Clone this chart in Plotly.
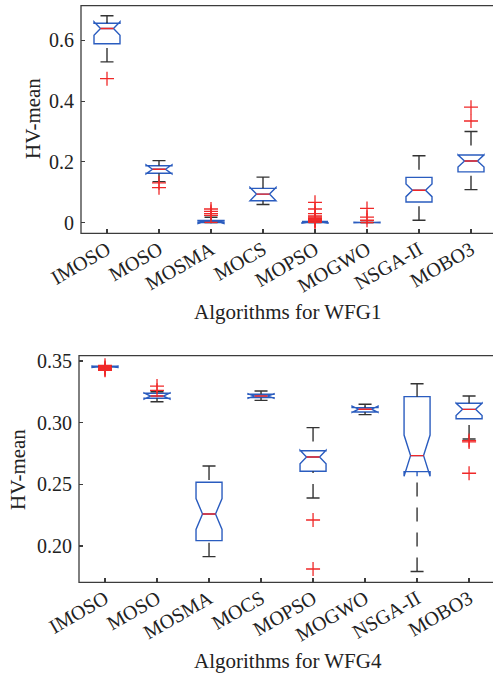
import plotly.graph_objects as go
from plotly.subplots import make_subplots

algorithms = ["IMOSO", "MOSO", "MOSMA", "MOCS", "MOPSO", "MOGWO", "NSGA-II", "MOBO3"]
positions = [1, 2, 3, 4, 5, 6, 7, 8]

wfg1_q1 = [0.589, 0.1625, 0.000, 0.072, 0.000, 0.0000, 0.068, 0.167]
wfg1_med = [0.639, 0.1757, 0.001, 0.094, 0.001, 0.0005, 0.1066, 0.203]
wfg1_q3 = [0.656, 0.1875, 0.007, 0.113, 0.004, 0.0010, 0.149, 0.2227]
wfg1_lo = [0.529, 0.135, 0.000, 0.060, 0.000, 0.0000, 0.008, 0.1086]
wfg1_hi = [0.681, 0.204, 0.018, 0.150, 0.004, 0.0010, 0.220, 0.300]
wfg1_notch = [0.022, 0.015, 0.004, 0.022, 0.003, 0.001, 0.021, 0.020]
wfg1_outliers = [
    [0.474],
    [0.131, 0.115],
    [0.045, 0.037, 0.030, 0.024],
    [],
    [0.067, 0.045, 0.030, 0.022, 0.018, 0.015, 0.013, 0.011, 0.009, 0.007, 0.005, 0.002],
    [0.047, 0.018, 0.008],
    [],
    [0.380, 0.3345],
]

wfg4_q1 = [0.3450, 0.3198, 0.2044, 0.3203, 0.2606, 0.3087, 0.2603, 0.3032]
wfg4_med = [0.3454, 0.3216, 0.2260, 0.3216, 0.2722, 0.3109, 0.2733, 0.3108]
wfg4_q3 = [0.3457, 0.3238, 0.2517, 0.3230, 0.2773, 0.3122, 0.3211, 0.3157]
wfg4_lo = [0.3450, 0.3170, 0.1914, 0.3181, 0.2390, 0.3065, 0.1793, 0.2868]
wfg4_hi = [0.3457, 0.3251, 0.2649, 0.3257, 0.2960, 0.3149, 0.3316, 0.3216]
wfg4_notch = [0.0006, 0.0025, 0.0125, 0.0018, 0.0055, 0.0025, 0.0167, 0.0050]
wfg4_outliers = [
    [0.3465, 0.3448, 0.3440, 0.3432, 0.3425],
    [0.3297, 0.3262],
    [],
    [],
    [0.2211, 0.1814],
    [],
    [],
    [0.2855, 0.2844, 0.2590],
]

wfg1_yticks = [0, 0.2, 0.4, 0.6]
wfg1_yticktext = ["0", "0.2", "0.4", "0.6"]
wfg4_yticks = [0.20, 0.25, 0.30, 0.35]
wfg4_yticktext = ["0.20", "0.25", "0.30", "0.35"]

BLUE = "#2a5cbf"
RED = "#f02828"
BLACK = "#333333"
AXC = "#3c3c3c"
FONT = "Liberation Serif, Times New Roman, serif"
BOX_W = 0.5
HALF = BOX_W / 2
CAP = HALF / 2
NOTCH_W = 0.25
MED = HALF * (1 - 2 * NOTCH_W)

fig = make_subplots(rows=2, cols=1)


def add_panel(row, q1, med, q3, lo, hi, notch, outliers):
    fig.add_trace(go.Box(
        x=positions, q1=q1, median=med, q3=q3,
        lowerfence=q1, upperfence=q3, notchspan=notch,
        notched=True, notchwidth=NOTCH_W, width=BOX_W, whiskerwidth=0,
        boxpoints=False, line=dict(color=BLUE, width=1.4),
        fillcolor="rgba(0,0,0,0)", showlegend=False, hoverinfo="skip",
    ), row=row, col=1)
    wx, wy = [], []
    for p, a, b, c, d in zip(positions, lo, q1, q3, hi):
        if a < b:
            wx += [p, p, None]
            wy += [a, b, None]
        if d > c:
            wx += [p, p, None]
            wy += [d, c, None]
    fig.add_trace(go.Scatter(x=wx, y=wy, mode="lines",
                             line=dict(color=BLACK, width=1.4, dash="14px,11px"),
                             showlegend=False, hoverinfo="skip"), row=row, col=1)
    cx, cy = [], []
    for p, a, d in zip(positions, lo, hi):
        cx += [p - CAP, p + CAP, None, p - CAP, p + CAP, None]
        cy += [a, a, None, d, d, None]
    fig.add_trace(go.Scatter(x=cx, y=cy, mode="lines",
                             line=dict(color=BLACK, width=1.4),
                             showlegend=False, hoverinfo="skip"), row=row, col=1)
    mx, my = [], []
    for p, m in zip(positions, med):
        mx += [p - MED, p + MED, None]
        my += [m, m, None]
    fig.add_trace(go.Scatter(x=mx, y=my, mode="lines",
                             line=dict(color=RED, width=1.4),
                             showlegend=False, hoverinfo="skip"), row=row, col=1)
    ox, oy = [], []
    for p, outs in zip(positions, outliers):
        for v in outs:
            ox.append(p)
            oy.append(v)
    fig.add_trace(go.Scatter(x=ox, y=oy, mode="markers",
                             marker=dict(symbol="cross-thin", size=10,
                                         line=dict(color=RED, width=1.3), color=RED),
                             showlegend=False, hoverinfo="skip"), row=row, col=1)


add_panel(1, wfg1_q1, wfg1_med, wfg1_q3, wfg1_lo, wfg1_hi, wfg1_notch, wfg1_outliers)
add_panel(2, wfg4_q1, wfg4_med, wfg4_q3, wfg4_lo, wfg4_hi, wfg4_notch, wfg4_outliers)

W, H = 493, 678
axis_common = dict(ticks="inside", ticklen=4, tickcolor=AXC, tickwidth=1.2,
                   showgrid=False, zeroline=False, automargin=False, showspikes=False,
                   tickfont=dict(family=FONT, size=20, color="#222222"))

fig.update_xaxes(**axis_common, showline=False, mirror=False,
                 tickvals=positions, ticktext=algorithms, tickangle=-30)
fig.update_xaxes(row=1, col=1, domain=[81 / W, 1.0], range=[0.5, 8.423])
fig.update_xaxes(row=2, col=1, domain=[79 / W, 1.0], range=[0.5, 8.46])
fig.update_yaxes(**axis_common, showline=False, mirror=False, ticklabelstandoff=6)
fig.update_yaxes(row=1, col=1, domain=[1 - 233.3 / H, 1 - 5.7 / H], range=[-0.035, 0.714],
                 tickvals=wfg1_yticks, ticktext=wfg1_yticktext)
fig.update_yaxes(row=2, col=1, domain=[1 - 582.3 / H, 1 - 355.7 / H], range=[0.1706, 0.3543],
                 tickvals=wfg4_yticks, ticktext=wfg4_yticktext)

# open frame: left, bottom and top spines (the right spine lies outside the window)
for xr, yr in (("x domain", "y domain"), ("x2 domain", "y2 domain")):
    fig.add_shape(type="path", xref=xr, yref=yr,
                  path="M 1.01,1 L 0,1 L 0,0 L 1.01,0",
                  line=dict(color=AXC, width=1.3), layer="above")

title_font = dict(family=FONT, size=21, color="#222222")
fig.update_layout(
    width=W, height=H, margin=dict(l=0, r=0, t=0, b=0, autoexpand=False),
    paper_bgcolor="white", plot_bgcolor="white", hovermode=False,
    annotations=[
        dict(text="Algorithms for WFG1", x=287.5 / W, y=1 - 312 / H, xref="paper", yref="paper",
             showarrow=False, font=title_font, xanchor="center", yanchor="middle"),
        dict(text="Algorithms for WFG4", x=287.5 / W, y=1 - 661 / H, xref="paper", yref="paper",
             showarrow=False, font=title_font, xanchor="center", yanchor="middle"),
        dict(text="HV-mean", x=33 / W, y=1 - 119 / H, xref="paper", yref="paper",
             showarrow=False, font=title_font, textangle=-90, xanchor="center", yanchor="middle"),
        dict(text="HV-mean", x=18 / W, y=1 - 470 / H, xref="paper", yref="paper",
             showarrow=False, font=title_font, textangle=-90, xanchor="center", yanchor="middle"),
    ],
)

fig.write_html("out.html", config={"displayModeBar": False, "staticPlot": True},
               post_script="document.body.style.margin='0';document.body.style.padding='0';"
                           "document.documentElement.style.overflow='hidden';")
